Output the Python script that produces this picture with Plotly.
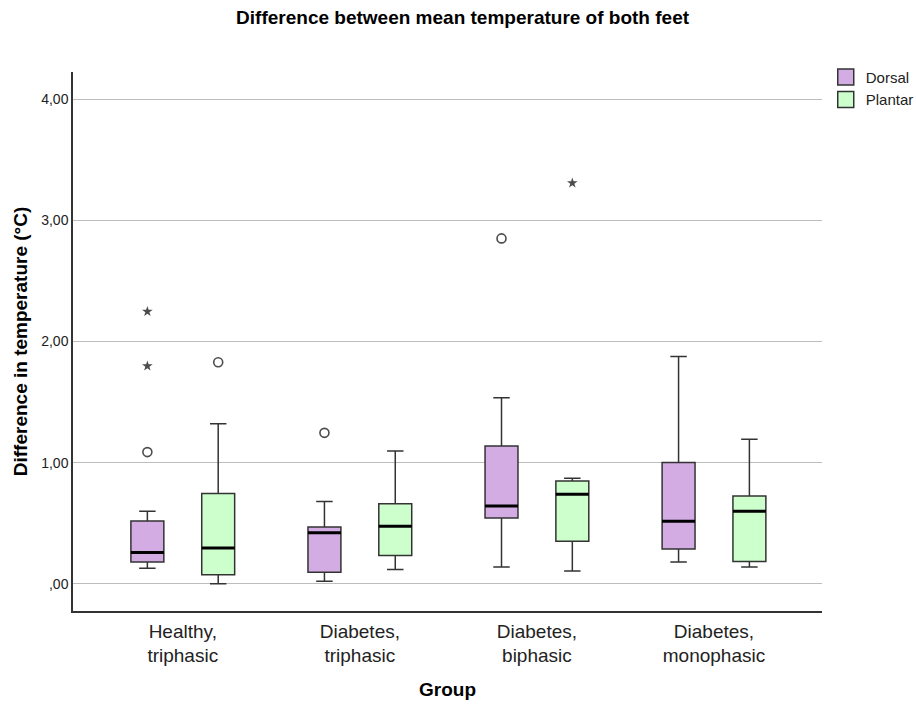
import plotly.graph_objects as go

groups = ["Healthy,<br>triphasic", "Diabetes,<br>triphasic", "Diabetes,<br>biphasic", "Diabetes,<br>monophasic"]

dorsal_low = [0.127, 0.021, 0.138, 0.180]
dorsal_q1 = [0.180, 0.094, 0.542, 0.286]
dorsal_med = [0.259, 0.421, 0.642, 0.515]
dorsal_q3 = [0.518, 0.468, 1.137, 1.000]
dorsal_high = [0.598, 0.680, 1.535, 1.876]

plantar_low = [0.000, 0.118, 0.106, 0.138]
plantar_q1 = [0.074, 0.233, 0.351, 0.183]
plantar_med = [0.295, 0.474, 0.739, 0.598]
plantar_q3 = [0.745, 0.660, 0.848, 0.725]
plantar_high = [1.320, 1.096, 0.872, 1.193]

# outliers: (group index, value, kind) kind: "o" = outlier, "*" = extreme
dorsal_out_group = [0, 0, 0, 1, 2]
dorsal_out_value = [1.087, 1.797, 2.247, 1.246, 2.851]
dorsal_out_kind = ["o", "*", "*", "o", "o"]
plantar_out_group = [0, 2]
plantar_out_value = [1.829, 3.308]
plantar_out_kind = ["o", "*"]

y_ticks = [0, 1, 2, 3, 4]
y_tick_text = [",00", "1,00", "2,00", "3,00", "4,00"]

DORSAL = "#D3ACE3"
PLANTAR = "#CCFFCC"
EDGE = "#333333"
FONT = "Liberation Sans"

fig = go.Figure()

for name, color, lo, q1, md, q3, hi in [
    ("Dorsal", DORSAL, dorsal_low, dorsal_q1, dorsal_med, dorsal_q3, dorsal_high),
    ("Plantar", PLANTAR, plantar_low, plantar_q1, plantar_med, plantar_q3, plantar_high),
]:
    fig.add_trace(go.Box(
        name=name, x=groups, q1=q1, median=md, q3=q3, lowerfence=lo, upperfence=hi,
        fillcolor=color, line=dict(color=EDGE, width=1.5), whiskerwidth=0.5,
        boxpoints=False, offsetgroup=name, legendgroup=name, showlegend=False,
        hoverinfo="skip",
    ))
    fig.add_trace(go.Box(
        name=name, x=groups, q1=md, median=md, q3=md, lowerfence=md, upperfence=md,
        fillcolor="rgba(0,0,0,0)", line=dict(color="#000000", width=3), whiskerwidth=0,
        boxpoints=False, offsetgroup=name, legendgroup=name, showlegend=False,
        hoverinfo="skip",
    ))

for name, gi, vals, kinds in [
    ("Dorsal", dorsal_out_group, dorsal_out_value, dorsal_out_kind),
    ("Plantar", plantar_out_group, plantar_out_value, plantar_out_kind),
]:
    fig.add_trace(go.Scatter(
        x=[groups[i] for i in gi], y=vals, mode="markers", offsetgroup=name,
        legendgroup=name, showlegend=False, hoverinfo="skip",
        marker=dict(
            symbol=["circle-open" if k == "o" else "star" for k in kinds],
            size=[9 if k == "o" else 8 for k in kinds],
            color="#000000",
            line=dict(width=[1.6 if k == "o" else 0 for k in kinds], color="#1a1a1a"),
        ),
    ))

# legend swatches
for name, color in [("Dorsal", DORSAL), ("Plantar", PLANTAR)]:
    fig.add_trace(go.Scatter(
        x=[None], y=[None], mode="markers", name=name, offsetgroup=name,
        legendgroup=name, showlegend=True,
        marker=dict(symbol="square", size=16, color=color, line=dict(width=1.5, color=EDGE)),
    ))

fig.update_layout(
    width=916, height=709,
    margin=dict(l=73, r=94, t=72, b=98, autoexpand=False),
    paper_bgcolor="white", plot_bgcolor="white",
    boxmode="group", boxgap=0.2, boxgroupgap=0.535,
    scattermode="group", scattergap=0.2,
    title=dict(text="<b>Difference between mean temperature of both feet</b>",
               x=0.505, xanchor="center", y=0.975, yanchor="middle",
               font=dict(family=FONT, size=19, color="black")),
    legend=dict(x=1.005, y=1.021, xanchor="left", yanchor="top",
                font=dict(family=FONT, size=15, color="#222222"),
                tracegroupgap=0, itemwidth=30, bgcolor="rgba(0,0,0,0)",
                itemsizing="trace"),
    font=dict(family=FONT, color="black"),
)

fig.update_xaxes(
    type="category", range=[-0.62, 3.61],
    showline=True, linecolor="#333333", linewidth=1.5, mirror=False,
    showgrid=False, ticks="", ticklabelstandoff=2,
    tickfont=dict(family=FONT, size=19, color="#222222"),
    title=dict(text="<b>Group</b>", font=dict(family=FONT, size=19, color="black"), standoff=17),
)
fig.update_yaxes(
    range=[-0.225, 4.225], tickvals=y_ticks, ticktext=y_tick_text,
    showline=True, linecolor="#333333", linewidth=1.5,
    showgrid=True, gridcolor="#BDBDBD", gridwidth=1, zeroline=False, ticks="",
    tickfont=dict(family=FONT, size=14, color="#222222"),
    title=dict(text="<b>Difference in temperature (°C)</b>", font=dict(family=FONT, size=19, color="black"), standoff=9),
)

fig.write_html("out.html")
